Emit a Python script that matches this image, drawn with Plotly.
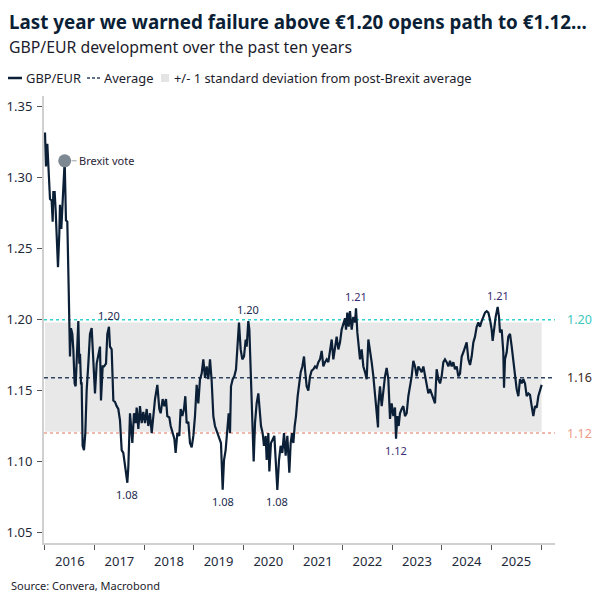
import datetime as dt
import plotly.graph_objects as go

# ---------------- data ----------------
# time as years elapsed since 2016-01-01, and GBP/EUR level
years_since_2016 = [
    0.000, 0.020, 0.047, 0.067, 0.101, 0.134, 0.155, 0.168, 0.195, 0.215, 0.235, 0.262, 0.289, 0.302,
    0.329, 0.349, 0.370, 0.397, 0.423, 0.450, 0.477, 0.504, 0.524, 0.551, 0.571, 0.598, 0.618, 0.638,
    0.672, 0.692, 0.706, 0.726, 0.739, 0.759, 0.786, 0.813, 0.840, 0.874, 0.907, 0.941, 0.974, 1.008,
    1.042, 1.075, 1.109, 1.129, 1.163, 1.190, 1.230, 1.257, 1.290, 1.310, 1.344, 1.378, 1.411, 1.445,
    1.478, 1.512, 1.546, 1.579, 1.613, 1.660, 1.680, 1.714,
    1.761, 1.794, 1.828, 1.848, 1.882, 1.915, 1.949, 1.982, 2.016, 2.050, 2.083, 2.117, 2.151, 2.184,
    2.218, 2.265, 2.305, 2.332, 2.372, 2.406, 2.440, 2.466, 2.507, 2.534, 2.574, 2.608, 2.634, 2.668,
    2.708, 2.735, 2.769, 2.802, 2.829, 2.856, 2.890, 2.923, 2.957, 2.991, 3.024, 3.058, 3.091, 3.125,
    3.159, 3.192, 3.226, 3.259, 3.293, 3.327, 3.360, 3.394, 3.427, 3.474, 3.515, 3.548, 3.582, 3.609,
    3.642, 3.676, 3.703, 3.730, 3.750, 3.784, 3.817, 3.851, 3.878, 3.911, 3.945, 3.978, 4.012, 4.046,
    4.066, 4.099, 4.120, 4.146, 4.180, 4.207, 4.234, 4.267, 4.301, 4.335,
    4.355, 4.388, 4.415, 4.449, 4.469, 4.503, 4.523, 4.556, 4.590, 4.624, 4.651, 4.684, 4.718, 4.751,
    4.785, 4.819, 4.852, 4.886, 4.926, 4.953, 4.980, 5.007, 5.034, 5.060, 5.094, 5.121, 5.155, 5.188,
    5.222, 5.242, 5.275, 5.309, 5.343, 5.376, 5.410, 5.444, 5.477, 5.511, 5.544, 5.578, 5.612, 5.645,
    5.679, 5.712, 5.746, 5.780, 5.813, 5.847, 5.880, 5.914, 5.948, 5.981, 6.015, 6.048, 6.069, 6.095,
    6.122, 6.149, 6.183, 6.216, 6.250, 6.270, 6.297, 6.324, 6.351, 6.384, 6.418, 6.452, 6.485, 6.519,
    6.552, 6.586, 6.620, 6.653, 6.687, 6.714,
    6.720, 6.754, 6.788, 6.821, 6.855, 6.888, 6.922, 6.956, 6.989, 7.023, 7.056, 7.077, 7.103, 7.130,
    7.157, 7.191, 7.224, 7.258, 7.292, 7.325, 7.359, 7.392, 7.426, 7.460, 7.493, 7.527, 7.560, 7.594,
    7.628, 7.661, 7.695, 7.728, 7.762, 7.796, 7.829, 7.863, 7.896, 7.930, 7.964, 7.997, 8.031, 8.064,
    8.098, 8.132, 8.165, 8.199, 8.232, 8.266, 8.300, 8.333, 8.367, 8.401, 8.434, 8.468, 8.501, 8.535,
    8.569, 8.602, 8.636, 8.669, 8.703, 8.737, 8.770, 8.804, 8.837, 8.871, 8.905, 8.938, 8.972, 9.005,
    9.025, 9.052, 9.086, 9.126, 9.153, 9.173, 9.207, 9.240, 9.254, 9.274, 9.308, 9.341, 9.375, 9.409,
    9.442, 9.476, 9.509, 9.543, 9.577, 9.610, 9.644, 9.677, 9.711, 9.745, 9.778, 9.812, 9.845, 9.879,
    9.913, 9.946, 9.980, 10.013,
]
gbp_eur = [
    1.332, 1.308, 1.324, 1.308, 1.285, 1.284, 1.269, 1.290, 1.290, 1.277, 1.261, 1.237, 1.261, 1.281,
    1.264, 1.277, 1.289, 1.312, 1.270, 1.269, 1.223, 1.174, 1.194, 1.190, 1.179, 1.155, 1.153, 1.176,
    1.199, 1.169, 1.176, 1.155, 1.155, 1.111, 1.108, 1.120, 1.150, 1.169, 1.190, 1.194, 1.172, 1.148,
    1.169, 1.174, 1.181, 1.143, 1.167, 1.167, 1.169, 1.190, 1.195, 1.181, 1.179, 1.143, 1.142, 1.139,
    1.137, 1.129, 1.108, 1.106, 1.096, 1.085, 1.096, 1.134,
    1.113, 1.134, 1.127, 1.138, 1.123, 1.139, 1.127, 1.135, 1.127, 1.137, 1.125, 1.134, 1.120, 1.132,
    1.144, 1.154, 1.137, 1.134, 1.144, 1.139, 1.144, 1.132, 1.131, 1.125, 1.120, 1.116, 1.106, 1.120,
    1.118, 1.137, 1.132, 1.137, 1.146, 1.127, 1.128, 1.113, 1.110, 1.118, 1.132, 1.154, 1.141, 1.158,
    1.162, 1.172, 1.159, 1.167, 1.158, 1.172, 1.157, 1.132, 1.125, 1.120, 1.116, 1.113, 1.080, 1.101,
    1.108, 1.127, 1.134, 1.120, 1.153, 1.158, 1.160, 1.165, 1.181, 1.198, 1.179, 1.172, 1.174, 1.186,
    1.181, 1.199, 1.193, 1.160, 1.130, 1.100, 1.127, 1.141, 1.148, 1.132,
    1.125, 1.120, 1.111, 1.118, 1.101, 1.120, 1.093, 1.113, 1.115, 1.118, 1.101, 1.080, 1.101, 1.111,
    1.106, 1.120, 1.104, 1.118, 1.092, 1.113, 1.120, 1.113, 1.125, 1.132, 1.146, 1.155, 1.163, 1.167,
    1.174, 1.165, 1.153, 1.150, 1.160, 1.164, 1.165, 1.167, 1.166, 1.170, 1.172, 1.178, 1.167, 1.170,
    1.172, 1.170, 1.179, 1.186, 1.172, 1.181, 1.188, 1.179, 1.184, 1.193, 1.198, 1.201, 1.193, 1.205,
    1.195, 1.206, 1.193, 1.202, 1.198, 1.208, 1.191, 1.181, 1.172, 1.179, 1.167, 1.163, 1.158, 1.186,
    1.179, 1.170, 1.160, 1.146, 1.137, 1.124,
    1.139, 1.153, 1.139, 1.151, 1.160, 1.166, 1.158, 1.130, 1.141, 1.132, 1.138, 1.116, 1.132, 1.125,
    1.134, 1.137, 1.139, 1.132, 1.134, 1.146, 1.153, 1.160, 1.171, 1.167, 1.160, 1.167, 1.165, 1.163,
    1.167, 1.160, 1.153, 1.148, 1.151, 1.148, 1.144, 1.141, 1.165, 1.158, 1.155, 1.160, 1.170, 1.172,
    1.170, 1.167, 1.171, 1.167, 1.170, 1.165, 1.167, 1.160, 1.162, 1.174, 1.177, 1.181, 1.184, 1.172,
    1.168, 1.174, 1.184, 1.188, 1.195, 1.198, 1.195, 1.199, 1.202, 1.205, 1.206, 1.205, 1.200, 1.193,
    1.185, 1.193, 1.202, 1.209, 1.202, 1.191, 1.193, 1.177, 1.152, 1.172, 1.177, 1.188, 1.190, 1.181,
    1.170, 1.158, 1.151, 1.146, 1.158, 1.155, 1.158, 1.155, 1.146, 1.148, 1.147, 1.139, 1.132, 1.139,
    1.138, 1.146, 1.151, 1.154,
]

average_level = 1.159
band_low, band_high = 1.121, 1.198
warn_high, warn_low = 1.20, 1.12
right_labels = ["1.20", "1.16", "1.12"]
right_label_levels = [warn_high, average_level, warn_low]
right_label_colors = ["#3cc8bb", "#3b2a1c", "#ee9a86"]

# value call-outs: (index into series, label, side, colour)
peak_labels = [
    (50, "1.20", "top", "#1b2a4e"),
    (61, "1.08", "bottom", "#1b2a4e"),
    (118, "1.08", "bottom", "#1b2a4e"),
    (135, "1.20", "top", "#1b2a4e"),
    (155, "1.08", "bottom", "#1b2a4e"),
    (205, "1.21", "top", "#3a2d70"),
    (231, "1.12", "bottom", "#3a2d70"),
    (293, "1.21", "top", "#3a2d70"),
]
brexit_index = 17
year_labels = list(range(2016, 2026))
year_ticks = list(range(2016, 2027))

# ---------------- helpers ----------------
base = dt.datetime(2016, 1, 1)


def to_date(t):
    return base + dt.timedelta(days=t * 365.25)


dates = [to_date(t) for t in years_since_2016]

NAVY = "#0b1f36"
FONT = "Noto Sans"

fig = go.Figure()

# +/- 1 std band
fig.add_trace(go.Scatter(
    x=[dates[0], dates[-1], dates[-1], dates[0], dates[0]],
    y=[band_low, band_low, band_high, band_high, band_low],
    fill="toself", fillcolor="#e8e8e8", line=dict(width=0),
    mode="lines", hoverinfo="skip", showlegend=False,
))

x_min = to_date(-0.02)
x_max = to_date(10.282)

# reference lines (full width)
for level, color, dash, width in [
    (warn_high, "#2ed3cf", "dot", 1.5),
    (average_level, "#2f4460", "4px,3px", 1.4),
    (warn_low, "#eaa394", "dot", 1.5),
]:
    fig.add_trace(go.Scatter(
        x=[x_min, x_max], y=[level, level], mode="lines",
        line=dict(color=color, dash=dash, width=width),
        hoverinfo="skip", showlegend=False,
    ))

# main series
fig.add_trace(go.Scatter(
    x=dates, y=gbp_eur, mode="lines", name="GBP/EUR",
    line=dict(color=NAVY, width=2.2), showlegend=False,
))

# Brexit marker
fig.add_trace(go.Scatter(
    x=[dates[brexit_index]], y=[gbp_eur[brexit_index]], mode="markers",
    marker=dict(color="#7e8892", size=13), showlegend=False, hoverinfo="skip",
))
fig.add_annotation(
    x=dates[brexit_index], y=gbp_eur[brexit_index], text="Brexit vote",
    showarrow=True, arrowhead=0, arrowwidth=1, arrowcolor="#9aa1a8",
    ax=12, ay=0, xanchor="left", standoff=7,
    font=dict(family=FONT, size=11, color="#2a2438"),
)

# value call-outs on peaks and troughs
for idx, label, side, color in peak_labels:
    fig.add_annotation(
        x=dates[idx], y=gbp_eur[idx], text=label, showarrow=False,
        yanchor="bottom" if side == "top" else "top",
        yshift=2 if side == "top" else -2,
        font=dict(family=FONT, size=11, color=color),
    )

# right-hand level labels
for lab, lev, col in zip(right_labels, right_label_levels, right_label_colors):
    fig.add_annotation(
        x=1, xref="paper", y=lev, yref="y", text=lab, showarrow=False,
        xanchor="left", xshift=10,
        font=dict(family=FONT, size=12.5, color=col),
    )

# ---------------- titles, legend, source ----------------
L, R, T, B = 44, 51, 96, 63
W = H = 606
PW, PH = W - L - R, H - T - B


def px_x(x):
    return (x - L) / PW


def px_y(y):
    return (H - B - y) / PH


fig.add_annotation(
    x=px_x(7), y=px_y(22), xref="paper", yref="paper", xanchor="left", yanchor="middle",
    text="<b>Last year we warned failure above €1.20 opens path to €1.12...</b>",
    showarrow=False, font=dict(family=FONT, size=18.8, color=NAVY),
)
fig.add_annotation(
    x=px_x(7), y=px_y(47), xref="paper", yref="paper", xanchor="left", yanchor="middle",
    text="GBP/EUR development over the past ten years",
    showarrow=False, font=dict(family=FONT, size=15.8, color="#1c1c2c"),
)
fig.add_annotation(
    x=px_x(9), y=px_y(585), xref="paper", yref="paper", xanchor="left", yanchor="middle",
    text="Source: Convera, Macrobond",
    showarrow=False, font=dict(family=FONT, size=11, color="#1c1c2c"),
)

# manual legend
ly = px_y(78)
fig.add_shape(type="line", xref="paper", yref="paper", x0=px_x(8), x1=px_x(22), y0=ly, y1=ly,
              line=dict(color=NAVY, width=2.5))
fig.add_shape(type="line", xref="paper", yref="paper", x0=px_x(87), x1=px_x(100), y0=ly, y1=ly,
              line=dict(color="#2f4460", width=1.5, dash="3px,2px"))
fig.add_shape(type="rect", xref="paper", yref="paper", x0=px_x(161), x1=px_x(169),
              y0=px_y(82), y1=px_y(74), line=dict(width=0), fillcolor="#e4e4e4")
for xx, txt in [(24, "GBP/EUR"), (102, "Average"), (172, "+/- 1 standard deviation from post-Brexit average")]:
    fig.add_annotation(
        x=px_x(xx), y=ly, xref="paper", yref="paper", xanchor="left", yanchor="middle",
        text=txt, showarrow=False, font=dict(family=FONT, size=12.9, color="#1c1c2c"),
    )

fig.update_layout(
    width=W, height=H, margin=dict(l=L, r=R, t=T, b=B, autoexpand=False),
    paper_bgcolor="white", plot_bgcolor="white", showlegend=False,
    font=dict(family=FONT, color="#1e2a3a"),
)
fig.update_xaxes(
    type="date", range=[x_min, x_max], automargin=False,
    tickvals=[dt.datetime(y, 7, 2) for y in year_labels], ticktext=[str(y) for y in year_labels],
    ticks="", ticklen=0, ticklabelstandoff=5,
    minor=dict(tickvals=[dt.datetime(y, 1, 1) for y in year_ticks], ticks="outside",
               ticklen=5, tickcolor="#555555", showgrid=False),
    showline=True, linecolor="#d0d0d0", linewidth=2, showgrid=False, zeroline=False,
    tickfont=dict(family=FONT, size=13, color="#1e2a3a"),
)
fig.update_yaxes(
    range=[1.0425, 1.3577], tickvals=[1.05, 1.10, 1.15, 1.20, 1.25, 1.30, 1.35], tickformat=".2f",
    ticks="outside", ticklen=5, tickcolor="#555555", ticklabelstandoff=2, automargin=False,
    showline=True, linecolor="#d0d0d0", linewidth=2, showgrid=False, zeroline=False,
    tickfont=dict(family=FONT, size=13, color="#1e2a3a"),
)

fig.write_html("out.html")
